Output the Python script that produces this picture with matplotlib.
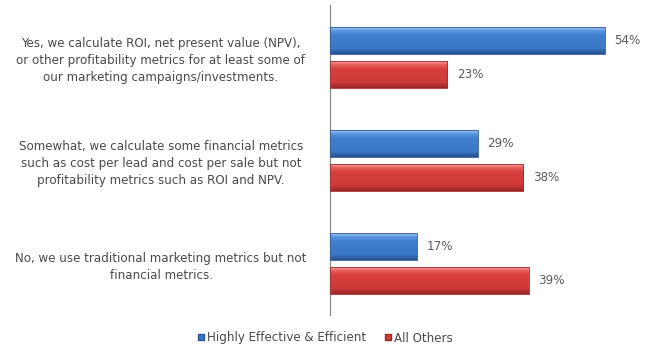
import numpy as np
import matplotlib
matplotlib.use("Agg")
import matplotlib.pyplot as plt
from matplotlib.colors import LinearSegmentedColormap
from matplotlib.lines import Line2D

categories = [
    "Yes, we calculate ROI, net present value (NPV),\nor other profitability metrics for at least some of\nour marketing campaigns/investments.",
    "Somewhat, we calculate some financial metrics\nsuch as cost per lead and cost per sale but not\nprofitability metrics such as ROI and NPV.",
    "No, we use traditional marketing metrics but not\nfinancial metrics.",
]
series_names = ["Highly Effective & Efficient", "All Others"]
highly_effective = [54, 29, 17]
all_others = [23, 38, 39]

W, H = 645, 353
fig = plt.figure(figsize=(W / 100, H / 100), dpi=100)
ax = fig.add_axes([330 / W, 1 - 315 / H, 315 / W, 310 / H])
ax.set_xlim(0, 315 / 5.09)
ax.set_ylim(2.50, -0.51)

bar_h = 0.262
offset = 0.165
text_col = "#4a4a4a"
fs = 8.6

# glossy gradients: thin highlight at the top, flat middle, darker lower edge
blue_cmap = LinearSegmentedColormap.from_list(
    "b", [(0.0, "#a9cdf2"), (0.12, "#5d98e0"), (0.3, "#3f7fcf"),
          (0.8, "#3a78c6"), (1.0, "#244f8c")])
red_cmap = LinearSegmentedColormap.from_list(
    "r", [(0.0, "#f7a5a3"), (0.12, "#e8615e"), (0.3, "#d63f3d"),
          (0.8, "#cf3a39"), (1.0, "#962525")])
grad = np.linspace(0, 1, 64).reshape(-1, 1)


def glossy_bars(values, dy, cmap, edge):
    ys = np.arange(len(values)) + dy
    bars = ax.barh(ys, values, height=bar_h, color="none",
                   edgecolor=edge, linewidth=0.6, zorder=3)
    for b in bars:
        x0, y0 = b.get_x(), b.get_y()
        w, h = b.get_width(), b.get_height()
        im = ax.imshow(grad, cmap=cmap, aspect="auto",
                       extent=[x0, x0 + w, y0 + h, y0], zorder=2,
                       interpolation="bilinear")
        im.set_clip_path(b)
    for y, v in zip(ys, values):
        ax.text(v + 1.9, y, f"{v}%", va="center", ha="left",
                fontsize=fs, color="#5a5a5a", zorder=4)
    return bars


glossy_bars(highly_effective, -offset, blue_cmap, "#2a5796")
glossy_bars(all_others, offset, red_cmap, "#9c2a2a")

for sp in ["top", "right", "bottom"]:
    ax.spines[sp].set_visible(False)
ax.spines["left"].set_color("#8a8a8a")
ax.spines["left"].set_linewidth(0.9)
ax.set_xticks([])
ax.set_yticks([])

trans = matplotlib.transforms.blended_transform_factory(fig.transFigure, ax.transData)
for i, cat in enumerate(categories):
    ax.text(161 / W, i + 0.03, cat, transform=trans, ha="center", va="center",
            multialignment="center", fontsize=fs, color=text_col,
            linespacing=1.4)

handles = [
    Line2D([], [], marker="s", linestyle="none", markersize=4.5,
           markerfacecolor="#3a78cc", markeredgecolor="#2a5796"),
    Line2D([], [], marker="s", linestyle="none", markersize=4.5,
           markerfacecolor="#d23b3a", markeredgecolor="#9c2a2a"),
]
fig.legend(handles, series_names, loc="center", bbox_to_anchor=(325 / W, 1 - 338 / H),
           ncol=2, frameon=False, fontsize=fs, handlelength=0.6,
           handletextpad=0.2, columnspacing=1.6, labelcolor=text_col)

fig.savefig("out.png", dpi=100, facecolor="white")
